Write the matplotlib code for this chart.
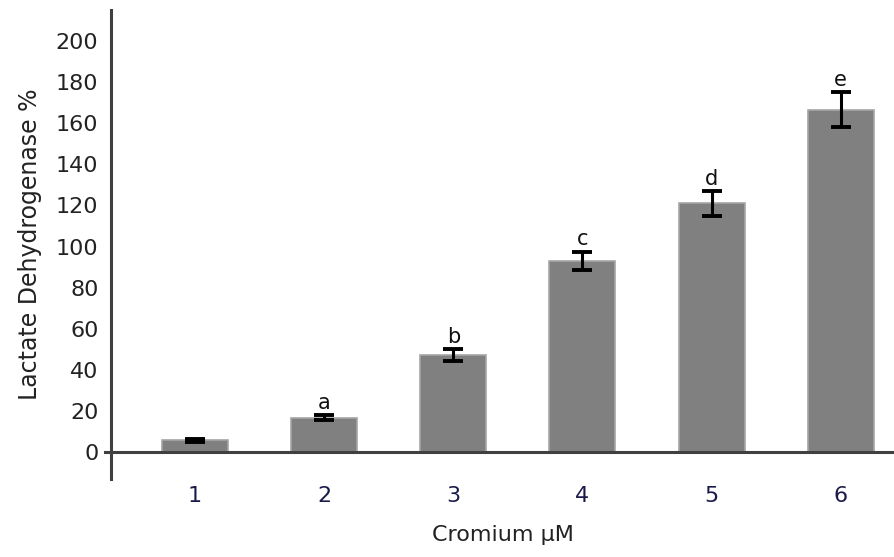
import matplotlib.pyplot as plt

# concentraciones y valores de LDH
doses = ["1", "2", "3", "4", "5", "6"]
ldh = [5.8, 16.8, 47.2, 93.2, 121.0, 166.6]
ldh_err = [0.6, 1.2, 3.0, 4.4, 6.0, 8.5]
letras = ["", "a", "b", "c", "d", "e"]

fig = plt.figure(figsize=(8.95, 5.57), dpi=100)
ax = fig.add_axes([0.124, 0.140, 0.876, 0.842])

x = range(1, len(doses) + 1)
ax.bar(x, ldh, width=0.51, color="#808080", edgecolor="#a6a6a6", linewidth=1.2, zorder=2)
ax.errorbar(x, ldh, yerr=ldh_err, fmt="none", ecolor="black", elinewidth=2.2,
            capsize=7, capthick=2.8, zorder=3)

for xi, v, e, t in zip(x, ldh, ldh_err, letras):
    ax.text(xi, v + e + 1.0, t, ha="center", va="bottom", fontsize=15, color="#111111")

ax.set_xlim(0.35, 6.42)
ax.set_ylim(-13, 215)

ax.spines["top"].set_visible(False)
ax.spines["right"].set_visible(False)
ax.spines["bottom"].set_visible(False)
ax.spines["left"].set_color("#404040")
ax.spines["left"].set_linewidth(2.2)

# linea del eje x en y=0
ax.plot([0.30, 6.42], [0, 0], color="#404040", linewidth=2.2, clip_on=False, zorder=4)

ax.set_yticks(range(0, 201, 20))
ax.tick_params(axis="y", length=0, labelsize=16, labelcolor="#222222", pad=9)
ax.set_xticks(list(x))
ax.set_xticklabels(doses)
ax.tick_params(axis="x", length=0, labelsize=16, labelcolor="#1a1a4a", pad=5)

ax.set_ylabel("Lactate Dehydrogenase %", fontsize=17, color="#222222", labelpad=10)
ax.set_xlabel("Cromium µM", fontsize=16, color="#222222", labelpad=14)

plt.savefig("out.png", dpi=100)
